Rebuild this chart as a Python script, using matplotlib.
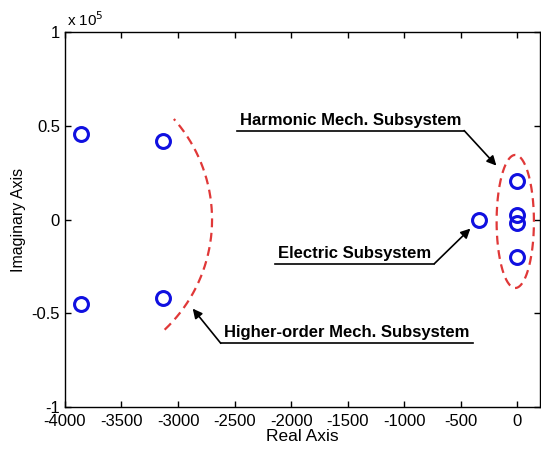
import numpy as np
import matplotlib
matplotlib.use('Agg')
import matplotlib.pyplot as plt
from matplotlib.ticker import FuncFormatter

plt.rcParams['font.family'] = ['Liberation Sans', 'DejaVu Sans']
plt.rcParams['axes.unicode_minus'] = False

# poles
real_part = [-3855, -3855, -3130, -3130, -340, 0, 0, 0, 0]
imag_part = [45500, -45200, 42000, -42000, 0, 20700, 2700, -1600, -20000]

x_ticks = [-4000, -3500, -3000, -2500, -2000, -1500, -1000, -500, 0]
y_ticks = [-1e5, -0.5e5, 0, 0.5e5, 1e5]

# red dashed outlines (ellipse centre, semi axes, angle range in deg)
arc_centre = (-4044, 0)
arc_axes = (1345, 81000)
arc_range = (-46.5, 41.5)
ell_centre = (-18, -1000)
ell_axes = (165, 35500)

fig = plt.figure(figsize=(5.41, 4.53), dpi=100)
ax = fig.add_axes([0.120, 0.1015, 0.878, 0.8275])

ax.plot(real_part, imag_part, 'o', mfc='none', mec='#1010e0', mew=2.2, ms=10, zorder=3)

t = np.radians(np.linspace(arc_range[0], arc_range[1], 200))
ax.plot(arc_centre[0] + arc_axes[0] * np.cos(t), arc_centre[1] + arc_axes[1] * np.sin(t),
        '--', color='#e03838', lw=1.6, dashes=(4, 2.5))
t = np.linspace(0, 2 * np.pi, 300)
ax.plot(ell_centre[0] + ell_axes[0] * np.cos(t), ell_centre[1] + ell_axes[1] * np.sin(t),
        '--', color='#e03838', lw=1.6, dashes=(4, 2.5))

# labels: underlined text with an arrow from the end of the underline
labels = [
    ('Harmonic Mech. Subsystem', (-2481, -470), 47500, (-470, 47500), (-185, 28800)),
    ('Electric Subsystem', (-2146, -733), -23500, (-733, -23500), (-415, -4800)),
    ('Higher-order Mech. Subsystem', (-2622, -388), -66000, (-2622, -66000), (-2870, -47500)),
]
for txt, (x0, x1), yl, start, tip in labels:
    ax.plot([x0, x1], [yl, yl], color='black', lw=1.2)
    ax.text((x0 + x1) / 2, yl + 1500, txt, ha='center', va='bottom',
            fontsize=12, fontweight='bold')
    ax.annotate('', xy=tip, xytext=start,
                arrowprops=dict(arrowstyle='-|>', color='black', lw=1.2,
                                mutation_scale=14, shrinkA=0, shrinkB=0))

ax.set_xlim(-4000, 200)
ax.set_ylim(-1e5, 1e5)
ax.set_xticks(x_ticks)
ax.set_yticks(y_ticks)
ax.yaxis.set_major_formatter(FuncFormatter(lambda v, p: '%g' % (v / 1e5)))
ax.tick_params(direction='in', top=True, right=True, labelsize=12, length=4, width=1)
ax.tick_params(axis='x', pad=5)
for s in ax.spines.values():
    s.set_linewidth(1.0)
ax.text(0.005, 1.008, r'x 10$^5$', transform=ax.transAxes, fontsize=11, va='bottom', ha='left')

ax.set_xlabel('Real Axis', fontsize=12.5, labelpad=0)
ax.set_ylabel('Imaginary Axis', fontsize=11.5, labelpad=4)

fig.savefig('out.png', dpi=100)
